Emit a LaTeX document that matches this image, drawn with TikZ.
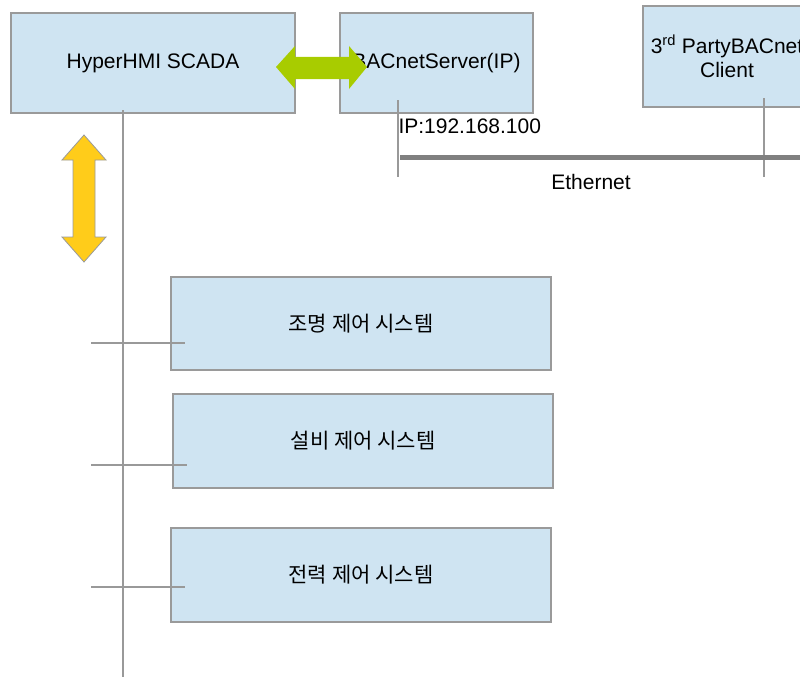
\documentclass[tikz,border=0pt]{standalone}
\usepackage{fontspec}
\setmainfont{Liberation Sans}
\newfontfamily\krfont{Noto Sans CJK KR}
\usetikzlibrary{positioning,calc}

\definecolor{boxblue}{HTML}{CFE4F2}
\definecolor{boxline}{HTML}{9A9A9A}
\definecolor{tapgray}{HTML}{999999}
\definecolor{netgray}{HTML}{808080}
\definecolor{linkgreen}{HTML}{A8CC00}
\definecolor{linkyellow}{HTML}{FFCC1A}

\begin{document}
\begin{tikzpicture}[x=1pt, y=-1pt, font=\fontsize{21}{24}\selectfont,
  sysbox/.style={draw=boxline, fill=boxblue, line width=1.5pt, align=center, inner sep=0pt, outer sep=0pt},
  tap/.style={draw=tapgray, line width=1.5pt}]
  \useasboundingbox (0,0) rectangle (800,677);
  \clip (0,0) rectangle (800,677);
  % top row
  \node[sysbox, minimum width=284pt, minimum height=100pt] (hmi) at (153,63) {HyperHMI SCADA};
  \node[sysbox, minimum width=193pt, minimum height=100pt] (srv) at (436.5,63) {BACnetServer(IP)};
  \node[sysbox, minimum width=168pt, minimum height=101pt] (client) at (727,56.5)
    {3\textsuperscript{rd} PartyBACnet\\Client};
  % subsystems
  \node[sysbox, minimum width=380pt, minimum height=93pt] (light) at (361,323.5) {\krfont 조명 제어 시스템};
  \node[sysbox, minimum width=380pt, minimum height=94pt, below=24pt of light, xshift=2pt] (equip) {\krfont 설비 제어 시스템};
  \node[sysbox, minimum width=380pt, minimum height=94pt, below=40pt of equip, xshift=-2pt] (power) {\krfont 전력 제어 시스템};
  % ethernet
  \coordinate (netEnd) at (800,157);
  \draw[tap] ($(srv.south west)+(58,-13)$) coordinate (ipTop) -- ++(0,77);
  \draw[tap] ($(client.south)+(37,-9)$) -- ++(0,79);
  \draw[netgray, line width=5pt] (ipTop |- netEnd) ++(2,0) -- (netEnd);
  \node[anchor=west] (ip) at ($(srv.south west)+(55,13)$) {IP:192.168.100};
  \node (eth) at (591,182) {Ethernet};
  % scada bus
  \coordinate (busEnd) at (123,677);
  \draw[tap] ($(hmi.south west)+(112,-3)$) -- (busEnd);
  \foreach \sys/\y in {light/343, equip/465, power/587}
    \draw[tap] (91,\y) -- ($(\sys.west |- 0,\y)+(14,0)$);
  % links
  \fill[linkgreen] (276,67) -- (295,46) -- (295,57) -- (349,57) -- (349,46) -- (367,67)
    -- (349,89) -- (349,79) -- (295,79) -- (295,89) -- cycle;
  \filldraw[fill=linkyellow, draw=boxline, line width=0.8pt] (84,135) -- (106,160) -- (95,160)
    -- (95,237) -- (106,237) -- (84,262) -- (62,237) -- (73,237) -- (73,160) -- (62,160) -- cycle;
\end{tikzpicture}
\end{document}
